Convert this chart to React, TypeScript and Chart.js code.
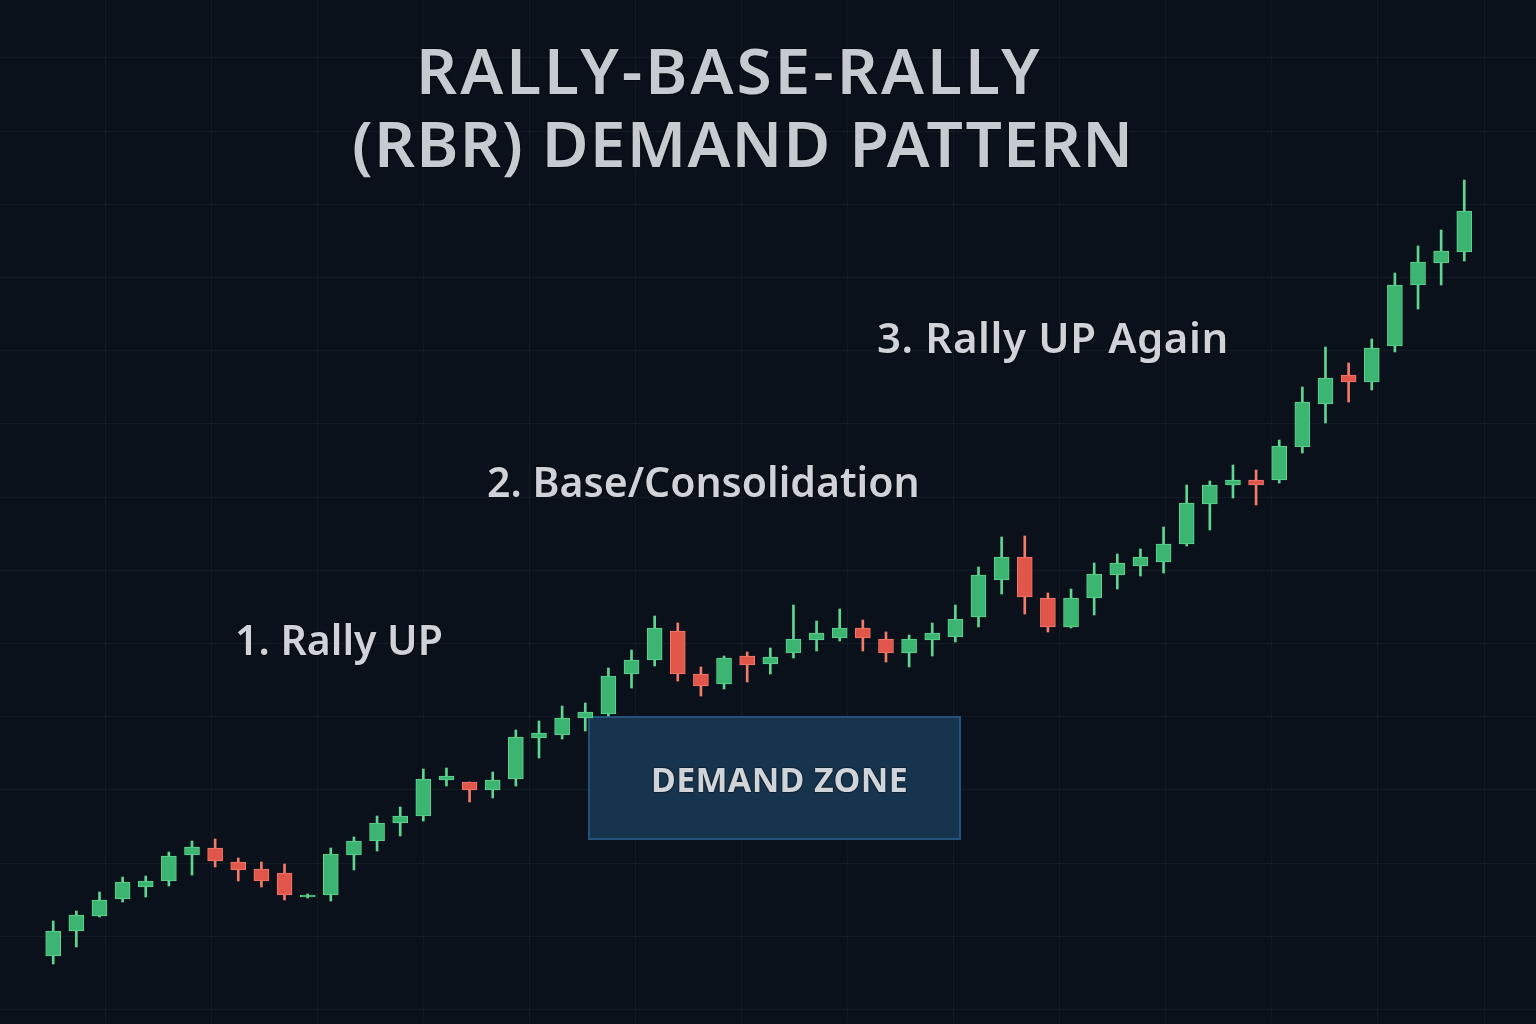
import React, { useEffect, useRef } from 'react';
import { Chart, registerables } from 'chart.js';

Chart.register(...registerables);

// OHLC candles (index = session)
const opens = [4.4, 6.9, 8.4, 10.1, 11.3, 11.9, 14.5, 15.2, 13.8, 13.1, 12.7, 10.3, 10.5, 14.5, 15.9, 17.7, 18.4, 22.0, 21.8, 21.0, 22.1, 26.2, 26.5, 28.2, 28.6, 32.6, 34.0, 36.9, 32.6, 31.6, 34.4, 33.6, 34.7, 36.0, 36.2, 37.2, 36.1, 34.7, 36.0, 36.3, 38.3, 42.0, 44.3, 40.2, 37.3, 40.2, 42.5, 43.4, 43.8, 45.6, 49.6, 51.5, 52.0, 52.0, 55.3, 59.6, 62.5, 61.8, 65.4, 71.5, 73.7, 74.8];
const highs = [7.9, 8.9, 10.8, 12.3, 12.4, 14.8, 15.9, 16.1, 14.2, 13.8, 13.6, 10.6, 15.2, 16.3, 18.4, 19.3, 23.1, 23.2, 21.8, 22.8, 27.0, 27.9, 29.4, 29.7, 33.2, 35.0, 38.4, 37.7, 33.3, 34.4, 34.8, 35.2, 39.5, 37.9, 39.1, 38.0, 36.8, 36.5, 37.7, 39.5, 43.3, 46.3, 46.4, 40.7, 41.1, 43.7, 44.6, 45.1, 47.3, 51.5, 51.9, 53.5, 53.0, 56.0, 61.3, 65.3, 63.7, 66.1, 72.7, 75.4, 77.0, 82.0];
const lows = [3.6, 5.3, 8.3, 9.8, 10.3, 11.4, 12.5, 13.3, 11.9, 11.3, 10.0, 10.2, 9.9, 13.0, 14.9, 16.4, 17.9, 21.4, 19.8, 20.2, 21.4, 24.2, 26.1, 26.9, 28.4, 31.2, 33.4, 31.9, 30.4, 31.1, 31.8, 32.6, 34.2, 34.9, 35.9, 34.9, 33.8, 33.3, 34.4, 35.8, 37.3, 40.6, 38.6, 36.8, 37.2, 38.5, 41.1, 42.4, 42.7, 45.4, 47.0, 50.2, 49.5, 51.7, 54.7, 57.7, 59.8, 61.0, 64.8, 69.1, 71.5, 73.9];
const closes = [6.9, 8.5, 10.0, 11.8, 11.9, 14.4, 15.3, 13.9, 13.0, 11.9, 10.5, 10.5, 14.6, 15.9, 17.7, 18.4, 22.1, 22.4, 21.0, 22.0, 26.3, 26.7, 28.2, 28.8, 32.4, 34.0, 37.2, 32.6, 31.4, 34.2, 33.5, 34.3, 36.1, 36.7, 37.2, 36.2, 34.7, 36.1, 36.7, 38.1, 42.5, 44.3, 40.3, 37.3, 40.2, 42.6, 43.7, 44.3, 45.6, 49.7, 51.5, 52.0, 51.5, 55.4, 59.8, 62.2, 61.8, 65.2, 71.5, 73.8, 74.9, 78.9];

// Demand zone (session range and price range)
const zoneSessions = [23.16, 39.2];
const zonePrices = [16.1, 28.3];

// Text
const titleLines = ['RALLY-BASE-RALLY', '(RBR) DEMAND PATTERN'];
const stepLabels = ['1. Rally UP', '2. Base/Consolidation', '3. Rally UP Again'];
const zoneLabel = 'DEMAND ZONE';

// background grid lines
const gridXValues = [0, 1, 2, 3, 4, 5, 6, 7, 8, 9, 10, 11, 12, 13];
const gridYValues = [0, 1, 2, 3, 4, 5, 6, 7, 8, 9, 10, 11, 12, 13];

const GREEN = '#3cb572';
const GREEN_EDGE = '#5fd591';
const RED = '#e0564a';
const RED_EDGE = '#f47a6b';

const zonePlugin = {
  id: 'zonePlugin',
  beforeDatasetsDraw(chart: any) {
    const { ctx, scales } = chart;
    const x0 = scales.x.getPixelForValue(zoneSessions[0]);
    const x1 = scales.x.getPixelForValue(zoneSessions[1]);
    const y0 = scales.y.getPixelForValue(zonePrices[1]);
    const y1 = scales.y.getPixelForValue(zonePrices[0]);
    ctx.save();
    ctx.fillStyle = '#17344f';
    ctx.fillRect(x0, y0, x1 - x0, y1 - y0);
    ctx.strokeStyle = '#24507a';
    ctx.lineWidth = 2;
    ctx.strokeRect(x0, y0, x1 - x0, y1 - y0);
    ctx.restore();
  },
};

export default function App() {
  const ref = useRef<HTMLCanvasElement | null>(null);

  useEffect(() => {
    document.body.style.margin = '0';
    document.body.style.background = '#0a111a';
    const up = opens.map((o, i) => closes[i] >= o);
    const bodyColors = up.map((u) => (u ? GREEN : RED));
    const bodyEdges = up.map((u) => (u ? GREEN_EDGE : RED_EDGE));
    const chart = new Chart(ref.current as HTMLCanvasElement, {
      type: 'bar',
      data: {
        datasets: [
          {
            label: 'wick',
            data: opens.map((_, i) => ({ x: i, y: [lows[i], highs[i]] })) as any,
            backgroundColor: bodyEdges,
            borderWidth: 0,
            barThickness: 2,
            grouped: false,
            order: 2,
          },
          {
            label: 'body',
            data: opens.map((o, i) => ({ x: i, y: [o, closes[i]] })) as any,
            backgroundColor: bodyColors,
            borderColor: bodyEdges,
            borderWidth: 1,
            borderSkipped: false,
            barThickness: 15,
            grouped: false,
            order: 1,
          },
        ],
      },
      options: {
        animation: false,
        responsive: false,
        maintainAspectRatio: false,
        layout: { padding: 0, autoPadding: false },
        plugins: { legend: { display: false }, tooltip: { enabled: false }, title: { display: false } },
        scales: {
          x: { type: 'linear', display: false, min: -2.3, max: 64.1, offset: false },
          y: { type: 'linear', display: false, min: -2.4, max: 100 },
          gx: {
            type: 'linear',
            position: 'bottom',
            min: -0.99,
            max: 13.49,
            offset: false,
            afterBuildTicks: (axis: any) => {
              axis.ticks = gridXValues.map((v) => ({ value: v }));
            },
            ticks: { display: false },
            grid: { color: 'rgba(130,150,170,0.07)', drawTicks: false, lineWidth: 1, offset: false },
            border: { display: false },
          },
          gy: {
            type: 'linear',
            position: 'left',
            min: -0.197,
            max: 13.792,
            afterBuildTicks: (axis: any) => {
              axis.ticks = gridYValues.map((v) => ({ value: v }));
            },
            ticks: { display: false },
            grid: { color: 'rgba(130,150,170,0.07)', drawTicks: false, lineWidth: 1, offset: false },
            border: { display: false },
          },
        } as any,
      },
      plugins: [zonePlugin],
    });
    return () => chart.destroy();
  }, []);

  const font = '"Noto Sans", "Open Sans", sans-serif';
  const shadow = '0 0 2px #000, 0 0 1px #000';
  const base: React.CSSProperties = {
    position: 'absolute',
    fontFamily: font,
    fontWeight: 600,
    lineHeight: 1,
    whiteSpace: 'nowrap',
    textShadow: shadow,
    margin: 0,
  };

  return (
    <div style={{ position: 'relative', width: 1536, height: 1024, background: '#0a111a', overflow: 'hidden' }}>
      <canvas ref={ref} width={1536} height={1024} style={{ position: 'absolute', left: 0, top: 0 }} />
      <div style={{ ...base, left: 416, top: 38, fontSize: 64, color: '#c6cbd2', letterSpacing: 3 }}>{titleLines[0]}</div>
      <div style={{ ...base, left: 352, top: 111, fontSize: 64, color: '#c6cbd2', letterSpacing: 1.2 }}>{titleLines[1]}</div>
      <div style={{ ...base, left: 235, top: 619, fontSize: 41, color: '#cfd3d9' }}>{stepLabels[0]}</div>
      <div style={{ ...base, left: 487, top: 461, fontSize: 41, color: '#cfd3d9' }}>{stepLabels[1]}</div>
      <div style={{ ...base, left: 877, top: 316, fontSize: 42, color: '#cfd3d9', letterSpacing: 0.6 }}>{stepLabels[2]}</div>
      <div style={{ ...base, left: 594, width: 371, textAlign: 'center', top: 762, fontSize: 34, fontWeight: 700, color: '#cfd4da', letterSpacing: 0.3 }}>{zoneLabel}</div>
    </div>
  );
}
